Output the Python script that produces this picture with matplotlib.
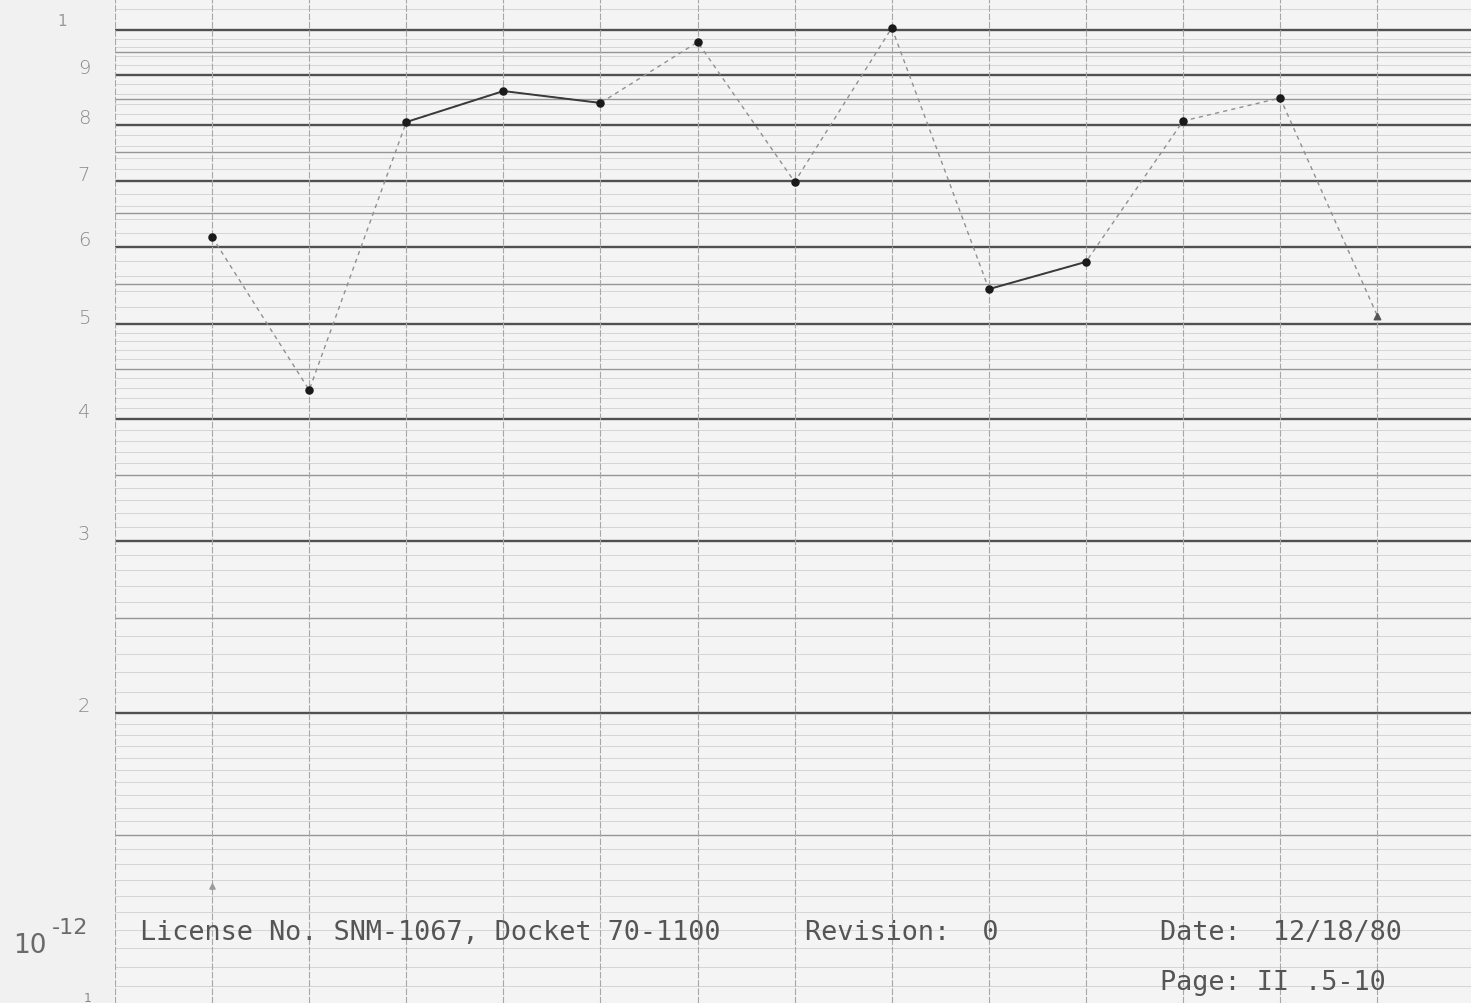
import numpy as np
import matplotlib
matplotlib.use("Agg")
import matplotlib.pyplot as plt
from matplotlib import transforms

# monthly sample index and measured concentration (units of 1e-12)
months = list(range(13))
conc = [6.14, 4.28, 8.05, 8.66, 8.42, 9.72, 6.99, 10.05, 5.43, 5.79, 8.07, 8.52, 5.10]
# segments drawn as solid ink (start index)
solid_segments = [2, 3, 8]
# extra low reading marked with a triangle
extra_month = [0]
extra_conc = [1.33]
triangle_months = [12]

tick_values = [2, 3, 4, 5, 6, 7, 8, 9]
scale = 1e-12

W, H = 1471, 1004
fig = plt.figure(figsize=(W / 100, H / 100), dpi=100)
fig.patch.set_facecolor("#f1f1f1")

ax = fig.add_axes([115 / W, 0, 1 - 115 / W, 1])
ax.set_facecolor("#f4f4f4")
ax.set_yscale("log")
ax.set_xlim(-1, 12.965)
ax.set_ylim(10 ** (4 / 977) * scale, 10 ** (1 + 31 / 977) * scale)
for s in ax.spines.values():
    s.set_visible(False)
ax.set_xticks([])
ax.set_yticks([])
ax.minorticks_off()

# log-paper grid
fine = np.concatenate([np.arange(1.05, 2.0, 0.05), np.arange(2.1, 5.0, 0.1),
                       np.arange(5.2, 10.0, 0.2), [10.5]])
for v in fine:
    ax.axhline(v * scale, color="#d0d0d0", lw=0.6, zorder=1)
for v in [1.5, 2.5, 3.5, 4.5, 5.5, 6.5, 7.5, 8.5, 9.5]:
    ax.axhline(v * scale, color="#959595", lw=1.0, zorder=1)
for v in [1, 2, 3, 4, 5, 6, 7, 8, 9, 10]:
    ax.axhline(v * scale, color="#505050", lw=1.7, zorder=2)
for x in range(-1, 13):
    ax.axvline(x, color="#a8a8a8", lw=0.8, ls=(0, (6, 1.5)), zorder=2)

# data line
y = [c * scale for c in conc]
ax.plot(months, y, color="#909090", lw=1.0, ls=(0, (3, 3)), zorder=3)
for i in solid_segments:
    ax.plot(months[i:i + 2], y[i:i + 2], color="#3a3a3a", lw=1.4, zorder=3)
dot_m = [m for m in months if m not in triangle_months]
dot_y = [y[m] for m in dot_m]
ax.scatter(dot_m, dot_y, s=26, color="#1a1a1a", zorder=4)
ax.scatter(triangle_months, [y[m] for m in triangle_months], marker="^", s=22,
           color="#555555", zorder=4)
ax.scatter(extra_month, [c * scale for c in extra_conc], marker="^", s=14,
           color="#9a9a9a", zorder=4)

# axis labels written on the paper margin
lab_tr = transforms.blended_transform_factory(fig.transFigure, ax.transData)
lab_tr = transforms.offset_copy(lab_tr, fig=fig, x=0, y=7, units="dots")
for v in tick_values:
    fig.text(84 / W, v * scale, str(v), transform=lab_tr, ha="center", va="center",
             fontsize=14, color="#8a8a8a", family="DejaVu Sans", fontweight="light")
top_tr = transforms.offset_copy(transforms.blended_transform_factory(fig.transFigure, ax.transData),
                                fig=fig, x=0, y=9, units="dots")
fig.text(62 / W, 10 * scale, "1", transform=top_tr, ha="center", va="center",
         fontsize=11, color="#9a9a9a")
fig.text(88 / W, 1 * scale, "1", transform=top_tr, ha="center", va="center",
         fontsize=9, color="#8a8a8a")
fig.text(30 / W, 1 - 946 / H, "10", ha="center", va="center", fontsize=19, color="#6a6a6a")
fig.text(70 / W, 1 - 928 / H, "-12", ha="center", va="center", fontsize=16, color="#6a6a6a")

# typed footer
mono = dict(family="DejaVu Sans Mono", fontsize=19.4, color="#555555", va="center", ha="left")
fig.text(140 / W, 1 - 933 / H, "License No. SNM-1067, Docket 70-1100", **mono)
fig.text(805 / W, 1 - 933 / H, "Revision:  0", **mono)
fig.text(1160 / W, 1 - 933 / H, "Date:  12/18/80", **mono)
fig.text(1160 / W, 1 - 983 / H, "Page: II .5-10", **mono)

fig.savefig("out.png", dpi=100, facecolor=fig.get_facecolor())
